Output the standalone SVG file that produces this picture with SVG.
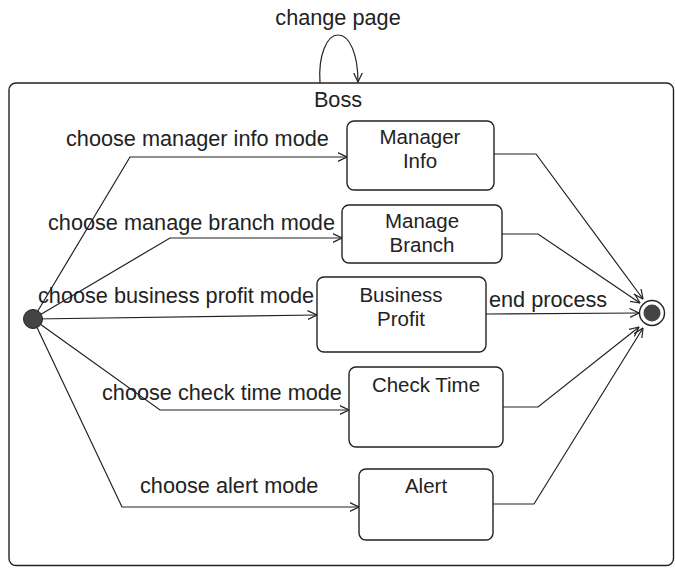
<svg xmlns="http://www.w3.org/2000/svg" width="675" height="568" viewBox="0 0 675 568">
  <style>
    text { font-family: "Liberation Sans", Arial, sans-serif; font-size: 21.7px; fill: #222; }
    .c { text-anchor: middle; }
    .b { font-size: 20.5px; }
    .box { fill: #fff; stroke: #222; stroke-width: 1.4; }
    .edge { fill: none; stroke: #222; stroke-width: 1.2; marker-end: url(#arr); }
  </style>
  <defs>
    <marker id="arr" viewBox="0 0 10 10" refX="9.5" refY="5" markerWidth="10" markerHeight="10" markerUnits="userSpaceOnUse" orient="auto">
      <path d="M0,0.5 L9.5,5 L0,9.5" fill="none" stroke="#222" stroke-width="1.2"/>
    </marker>
  </defs>
  <rect width="675" height="568" fill="#fff"/>

  <g id="boss">
    <rect x="9" y="83" width="664.5" height="482.5" rx="7" fill="none" stroke="#222" stroke-width="1.4"/>
    <text x="338" y="107" class="c">Boss</text>
  </g>

  <g id="connectors">
    <path class="edge" d="M320,83 C318,55 327,35 338,35 C350,35 358,55 358,82"/>
    <path class="edge" d="M33,319 L130,157 L347,157"/>
    <path class="edge" d="M33,319 L170,238 L342,238"/>
    <path class="edge" d="M33,319 L317,315"/>
    <path class="edge" d="M33,319 L160,410 L349,410"/>
    <path class="edge" d="M33,319 L122,507 L359,507"/>
    <path class="edge" d="M494,154 L536,154 L643,299"/>
    <path class="edge" d="M502,234 L538,234 L640,303"/>
    <path class="edge" d="M486,314 L639,313"/>
    <path class="edge" d="M503,407 L538,407 L639,327"/>
    <path class="edge" d="M493,504 L534,504 L643,328"/>
    <text x="338" y="25" class="c">change page</text>
    <text x="66" y="146">choose manager info mode</text>
    <text x="48" y="230">choose manage branch mode</text>
    <text x="38" y="303">choose business profit mode</text>
    <text x="102" y="400">choose check time mode</text>
    <text x="140" y="493">choose alert mode</text>
    <text x="489" y="307">end process</text>
  </g>

  <g id="initial">
    <circle cx="33" cy="319" r="9.5" fill="#444" stroke="#222" stroke-width="1"/>
  </g>

  <g id="final">
    <circle cx="652" cy="313" r="12.5" fill="#fff" stroke="#222" stroke-width="1.4"/>
    <circle cx="652" cy="313" r="8.5" fill="#444"/>
  </g>

  <g id="manager-info">
    <rect class="box" x="347" y="121" width="147" height="69" rx="7"/>
    <text x="420" y="144" class="c b">Manager</text>
    <text x="420" y="168" class="c b">Info</text>
  </g>

  <g id="manage-branch">
    <rect class="box" x="342" y="205" width="160" height="58" rx="7"/>
    <text x="422" y="228" class="c b">Manage</text>
    <text x="422" y="252" class="c b">Branch</text>
  </g>

  <g id="business-profit">
    <rect class="box" x="317" y="277" width="169" height="75" rx="7"/>
    <text x="401" y="302" class="c b">Business</text>
    <text x="401" y="326" class="c b">Profit</text>
  </g>

  <g id="check-time">
    <rect class="box" x="349" y="367" width="154" height="80" rx="7"/>
    <text x="426" y="392" class="c b">Check Time</text>
  </g>

  <g id="alert">
    <rect class="box" x="359" y="469" width="134" height="71" rx="7"/>
    <text x="426" y="493" class="c b">Alert</text>
  </g>
</svg>
